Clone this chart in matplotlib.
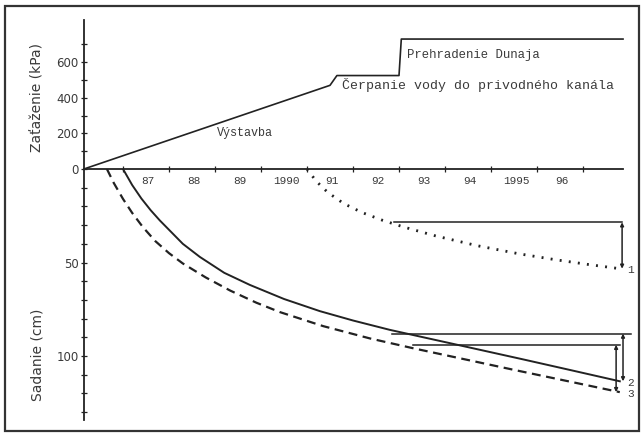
import matplotlib
matplotlib.use("Agg")
import matplotlib.pyplot as plt
from matplotlib.patches import Rectangle

# load history (kPa) - construction, canal pumping, Danube damming
load_years = [1986.15, 1991.5, 1991.65, 1993.0, 1993.05, 1997.87]
load_kpa = [0, 470, 525, 525, 730, 730]

# settlement curves (cm)
c1_years = [1991.0, 1991.2, 1991.45, 1991.8, 1992.2, 1992.65, 1993.1, 1993.8, 1994.7,
            1995.6, 1996.4, 1997.1, 1997.8]
c1_cm = [0, 6.5, 12.5, 18.5, 23.3, 27.5, 31, 35.8, 41, 45.3, 48.5, 51, 53.3]

c2_years = [1987.0, 1987.2, 1987.4, 1987.6, 1987.8, 1988.0, 1988.3, 1988.67, 1989.2,
            1989.76, 1990.5, 1991.28, 1992.0, 1992.8, 1993.46, 1994.6, 1995.7, 1996.78, 1997.8]
c2_cm = [0, 8.6, 15.8, 22, 27.5, 32.5, 40, 47, 55.5, 62, 69.5, 76, 81, 86, 89.6, 95.8,
         101.8, 107.8, 113.5]

c3_years = [1986.65, 1986.8, 1987.0, 1987.2, 1987.43, 1987.7, 1988.0, 1988.3, 1988.8,
            1989.33, 1989.9, 1990.41, 1991.35, 1992.37, 1993.3, 1994.4, 1995.5, 1996.7, 1997.8]
c3_cm = [0, 7.5, 16, 23.5, 31, 38.5, 45, 50.5, 58, 65, 71.5, 76.5, 84, 90.6, 95.8, 101.6,
         107.4, 113.6, 119.3]

# reference levels for the settlement increments (cm) and where they start
ref_cm = [28.5, 88, 94]
ref_start = [1992.9, 1992.85, 1993.3]
curve_names = ["1", "2", "3"]

year_ticks = list(range(1987, 1998))
year_labels = ["87", "88", "89", "1990", "91", "92", "93", "94", "1995", "96"]
load_ticks = [0, 200, 400, 600]
sett_ticks = list(range(10, 131, 10))
sett_labels = {50: "50", 100: "100"}

INK = "#222222"
TXT = "#3a3a3a"
MONO = "Liberation Mono"

X0, X1 = 1986.152, 1998.174
XAXIS_END = 1997.87

fig = plt.figure(figsize=(6.42, 4.36), dpi=100)
ax_top = fig.add_axes([84 / 642, 1 - 169 / 436, 553 / 642, 149 / 436])
ax_bot = fig.add_axes([84 / 642, 1 - 420 / 436, 553 / 642, 251 / 436])

for ax in (ax_top, ax_bot):
    ax.set_facecolor("none")
    ax.set_xlim(X0, X1)
    for s in ("top", "right"):
        ax.spines[s].set_visible(False)
    ax.spines["left"].set_color(INK)
    ax.spines["left"].set_linewidth(1.3)

# upper panel: load
ax_top.set_ylim(0, 837)
ax_top.spines["bottom"].set_bounds(X0, XAXIS_END)
ax_top.spines["bottom"].set_color(INK)
ax_top.spines["bottom"].set_linewidth(1.3)
ax_top.set_yticks(load_ticks)
ax_top.set_yticks([100, 300, 500, 700], minor=True)
ax_top.tick_params(axis="y", which="both", direction="inout", length=5, width=0.9,
                   colors=INK, labelcolor=TXT, labelsize=8.5, pad=1.5)
ax_top.set_xticks(year_ticks)
ax_top.set_xticklabels([])
ax_top.set_xticks([y + 0.55 for y in year_ticks[:-1]], minor=True)
ax_top.set_xticklabels(year_labels, minor=True, family=MONO, fontsize=8, color=TXT)
ax_top.tick_params(axis="x", which="major", direction="inout", length=5, width=0.9, color=INK)
ax_top.tick_params(axis="x", which="minor", length=0, pad=5)

ax_top.plot(load_years, load_kpa, color=INK, lw=1.2, solid_joinstyle="round")
ax_top.text(1989.04, 202, "Výstavba", family=MONO, fontsize=8.5, color=TXT, va="center")
ax_top.text(1991.76, 470, "Čerpanie vody do privodného kanála", family=MONO,
            fontsize=9.5, color=TXT, va="center")
ax_top.text(1993.17, 640, "Prehradenie Dunaja", family=MONO, fontsize=8.8,
            color=TXT, va="center")

ax_top.set_ylabel("Zaťaženie (kPa)", fontsize=10, color=TXT)
ax_top.yaxis.set_label_coords(-0.072, 0.48)

# lower panel: settlement
ax_bot.set_ylim(134.2, 0)
ax_bot.spines["bottom"].set_visible(False)
ax_bot.set_xticks([])
ax_bot.set_yticks(sett_ticks)
ax_bot.set_yticklabels([sett_labels.get(t, "") for t in sett_ticks])
ax_bot.tick_params(axis="y", direction="inout", length=5, width=0.9,
                   colors=INK, labelcolor=TXT, labelsize=8.5, pad=1.5)
ax_bot.set_ylabel("Sadanie (cm)", fontsize=10, color=TXT)
ax_bot.yaxis.set_label_coords(-0.072, 0.26)

ax_bot.plot(c1_years, c1_cm, color=INK, lw=2.0, linestyle=(0, (0.7, 2.6)))
ax_bot.plot(c2_years, c2_cm, color=INK, lw=1.4)
ax_bot.plot(c3_years, c3_cm, color=INK, lw=1.6, linestyle=(0, (4, 2.5)))

curves = [(c1_years, c1_cm), (c2_years, c2_cm), (c3_years, c3_cm)]
ref_end = [1997.85, 1998.05, 1997.8]
dim_x = [1997.85, 1997.87, 1997.72]
for (yrs, cm), lvl, x_start, x_end, xd, name in zip(curves, ref_cm, ref_start, ref_end,
                                                     dim_x, curve_names):
    ax_bot.plot([x_start, x_end], [lvl, lvl], color=INK, lw=1.1)
    ax_bot.annotate("", xy=(xd, cm[-1]), xytext=(xd, lvl),
                    arrowprops=dict(arrowstyle="<|-|>", color=INK, lw=1.1,
                                    mutation_scale=5, shrinkA=0, shrinkB=0))
    ax_bot.text(yrs[-1] + 0.17, cm[-1] + 0.8, name, family=MONO, fontsize=8,
                color=TXT, va="center")

# scanned frame around the figure
fig.patches.append(Rectangle((5 / 642, 1 - 431 / 436), 634 / 642, 425 / 436,
                             transform=fig.transFigure, fill=False, lw=1.6, ec="#333333"))

fig.savefig("out.png", dpi=100)
